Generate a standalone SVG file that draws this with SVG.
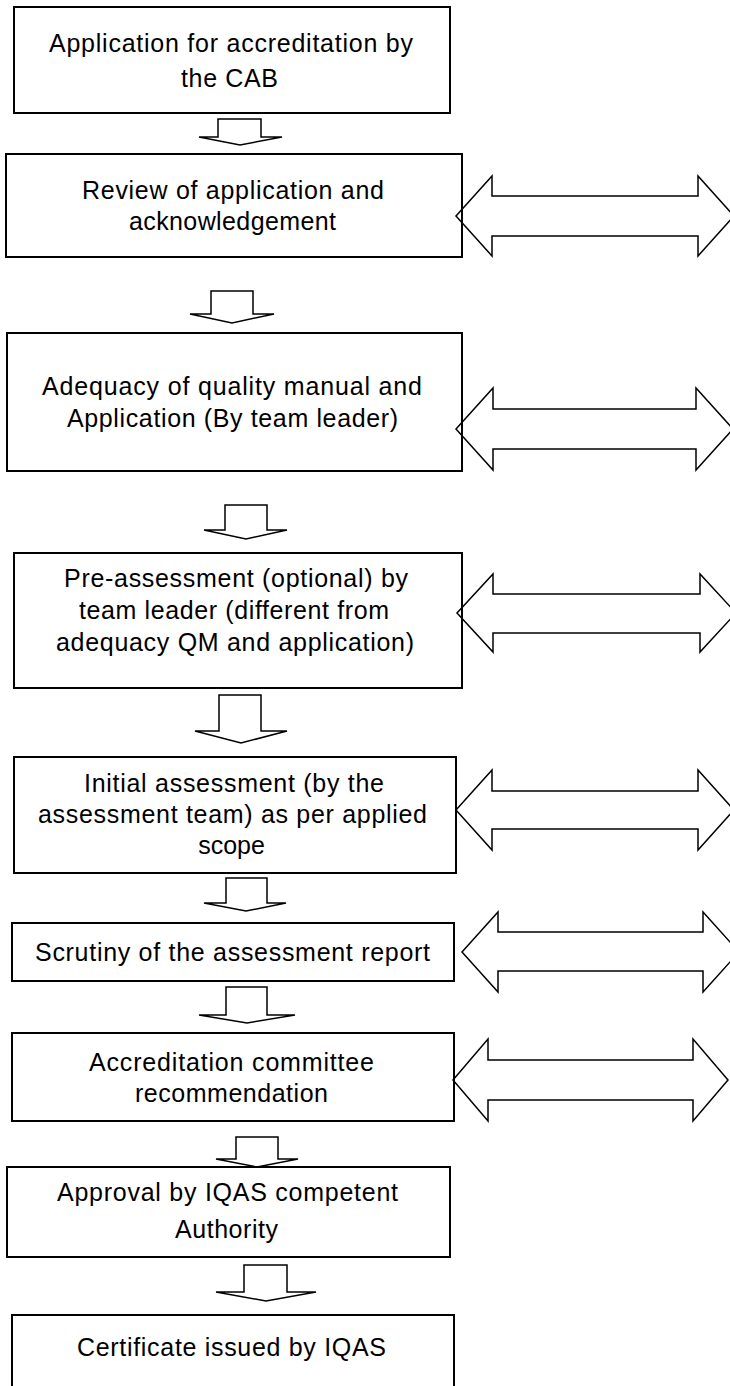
<svg xmlns="http://www.w3.org/2000/svg" width="730" height="1386" viewBox="0 0 730 1386">
<style>
.box{fill:#fff;stroke:#000;stroke-width:2}
.t{font-family:"Liberation Sans",Arial,sans-serif;font-size:25px;fill:#000;text-anchor:middle}
.arr{fill:none;stroke:#000;stroke-width:1.5;stroke-linejoin:miter}
</style>
<rect width="730" height="1386" fill="#fff"/>
<g id="n1"><rect class="box" x="14" y="7" width="436" height="106"/>
<text class="t" x="231" y="52" textLength="364" lengthAdjust="spacing">Application for accreditation by</text>
<text class="t" x="229.5" y="87" textLength="97" lengthAdjust="spacing">the CAB</text></g>
<g id="n2"><rect class="box" x="6" y="154" width="456" height="103"/>
<text class="t" x="233" y="199" textLength="302" lengthAdjust="spacing">Review of application and</text>
<text class="t" x="232.5" y="230" textLength="207" lengthAdjust="spacing">acknowledgement</text></g>
<g id="n3"><rect class="box" x="7" y="333" width="455" height="138"/>
<text class="t" x="232" y="395" textLength="380" lengthAdjust="spacing">Adequacy of quality manual and</text>
<text class="t" x="232.5" y="427" textLength="331" lengthAdjust="spacing">Application (By team leader)</text></g>
<g id="n4"><rect class="box" x="14" y="553" width="448" height="135"/>
<text class="t" x="236" y="587" textLength="344" lengthAdjust="spacing">Pre-assessment (optional) by</text>
<text class="t" x="234" y="619" textLength="310" lengthAdjust="spacing">team leader (different from</text>
<text class="t" x="235" y="651" textLength="358" lengthAdjust="spacing">adequacy QM and application)</text></g>
<g id="n5"><rect class="box" x="14" y="757" width="442" height="116"/>
<text class="t" x="234" y="792" textLength="300" lengthAdjust="spacing">Initial assessment (by the</text>
<text class="t" x="232.5" y="823" textLength="389" lengthAdjust="spacing">assessment team) as per applied</text>
<text class="t" x="231.5" y="854">scope</text></g>
<g id="n6"><rect class="box" x="12" y="923" width="442" height="58"/>
<text class="t" x="232.5" y="961" textLength="395" lengthAdjust="spacing">Scrutiny of the assessment report</text></g>
<g id="n7"><rect class="box" x="12" y="1033" width="442" height="88"/>
<text class="t" x="231.5" y="1071" textLength="285" lengthAdjust="spacing">Accreditation committee</text>
<text class="t" x="231.5" y="1102" textLength="193" lengthAdjust="spacing">recommendation</text></g>
<g id="n8"><rect class="box" x="7" y="1167" width="443" height="90"/>
<text class="t" x="227.5" y="1201" textLength="341" lengthAdjust="spacing">Approval by IQAS competent</text>
<text class="t" x="226.5" y="1238" textLength="103" lengthAdjust="spacing">Authority</text></g>
<g id="n9"><rect class="box" x="12" y="1315" width="442" height="80"/>
<text class="t" x="231.5" y="1356" textLength="309" lengthAdjust="spacing">Certificate issued by IQAS</text></g>
<g id="connectors">
<polygon class="arr" points="218,119 261,119 261,137 282,137 240,145 199,137 218,137"/>
<polygon class="arr" points="211,291 253,291 253,314 274,314 232,323 190,314 211,314"/>
<polygon class="arr" points="225,505 267,505 267,530 287,530 246,539 204,530 225,530"/>
<polygon class="arr" points="219,695 261,695 261,731 287,731 241,743 195,731 219,731"/>
<polygon class="arr" points="226,878 267,878 267,903 286,903 246,911 204,903 226,903"/>
<polygon class="arr" points="226,987 267,987 267,1015 295,1015 247,1023 199,1015 226,1015"/>
<polygon class="arr" points="236,1137 278,1137 278,1159 298,1159 257,1167 216,1159 236,1159"/>
<polygon class="arr" points="244,1265 287,1265 287,1292 316,1292 266,1301 216,1292 244,1292"/>
<polygon class="arr" points="456,216 492,176 492,196 698,196 698,176 734,216 698,256 698,236 492,236 492,256"/>
<polygon class="arr" points="456,429 493,388 493,409 696,409 696,388 733,429 696,470 696,449 493,449 493,470"/>
<polygon class="arr" points="457,613 493,574 493,594 700,594 700,574 736,613 700,652 700,633 493,633 493,652"/>
<polygon class="arr" points="456,810 492,770 492,791 698,791 698,770 734,810 698,850 698,829 492,829 492,850"/>
<polygon class="arr" points="462,952 498,912 498,932 703,932 703,912 739,952 703,992 703,971 498,971 498,992"/>
<polygon class="arr" points="453,1080 488,1039 488,1060 693,1060 693,1039 728,1080 693,1121 693,1100 488,1100 488,1121"/>
</g>
</svg>
